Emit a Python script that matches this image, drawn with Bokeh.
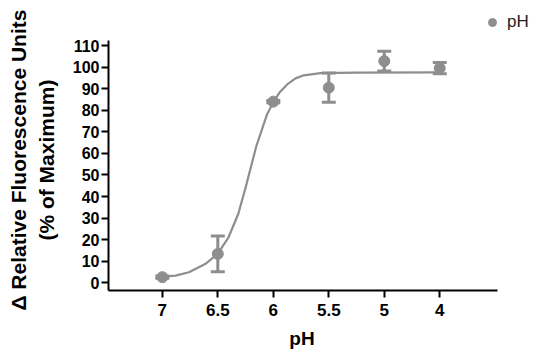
from bokeh.plotting import figure
from bokeh.models import (ColumnDataSource, Whisker, TeeHead, FixedTicker,
                          Legend, LegendItem, Range1d)
from bokeh.embed import file_html
from bokeh.resources import INLINE

# ---- data ----
ph_labels = ["7", "6.5", "6", "5.5", "5", "4"]
response = [2.6, 13.4, 84.0, 90.5, 102.8, 99.5]
sd = [0.5, 8.3, 0.5, 6.8, 4.6, 2.6]

# fitted curve (x in category positions)
curve_pos = [0.0, 0.24, 0.48, 0.78, 1.0, 1.19, 1.37, 1.52, 1.69, 1.89, 2.01,
             2.12, 2.25, 2.4, 2.55, 2.85, 3.5, 5.0]
curve_y = [2.9, 3.3, 4.9, 8.8, 13.5, 20.9, 32.0, 46.0, 63.0, 78.3, 84.1,
           88.5, 92.0, 94.8, 96.2, 97.2, 97.5, 97.6]

y_ticks = list(range(0, 111, 10))

pos = list(range(len(ph_labels)))
upper = [m + s for m, s in zip(response, sd)]
lower = [m - s for m, s in zip(response, sd)]

GRAY = "#8e8e8e"
FONT = "Liberation Sans"
NB = "\u00a0"

p = figure(width=553, height=360, output_backend="svg", toolbar_location=None,
           x_range=Range1d(-0.97, 7.05), y_range=Range1d(-3.57, 130.9),
           min_border_left=108, min_border_right=0,
           min_border_top=0, min_border_bottom=70)
p.outline_line_color = None
p.xgrid.visible = False
p.ygrid.visible = False

src = ColumnDataSource(dict(x=pos, y=response, upper=upper, lower=lower))

p.line(curve_pos, curve_y, line_color=GRAY, line_width=2.2)

whisk = Whisker(source=src, base="x", upper="upper", lower="lower",
                line_color=GRAY, line_width=3,
                upper_head=TeeHead(size=14, line_color=GRAY, line_width=3),
                lower_head=TeeHead(size=14, line_color=GRAY, line_width=3))
p.add_layout(whisk)

r_pts = p.scatter("x", "y", source=src, size=11, fill_color=GRAY,
                  line_color=GRAY)

# axes
for ax in (p.xaxis, p.yaxis):
    ax.axis_line_width = 2
    ax.axis_line_color = "black"
    ax.major_tick_line_width = 2
    ax.major_tick_line_color = "black"
    ax.major_tick_in = 0
    ax.major_tick_out = 7
    ax.minor_tick_line_color = None
    ax.major_label_text_font = FONT
    ax.major_label_text_font_style = "bold"
    ax.major_label_text_color = "black"
    ax.axis_label_text_font = FONT
    ax.axis_label_text_font_style = "bold"
    ax.axis_label_text_color = "black"

p.xaxis.bounds = (-0.97, 6.04)
p.xaxis.ticker = FixedTicker(ticks=pos)
p.xaxis.major_label_overrides = {i: lbl for i, lbl in zip(pos, ph_labels)}
p.xaxis.major_label_text_font_size = "17px"
p.xaxis.major_label_standoff = 6
p.xaxis.axis_label = "pH" + NB * 11
p.xaxis.axis_label_text_font_size = "19px"
p.xaxis.axis_label_standoff = 9

p.yaxis.bounds = (-3.57, 112.3)
p.yaxis.ticker = FixedTicker(ticks=y_ticks)
p.yaxis.major_label_text_font_size = "16px"
p.yaxis.major_label_standoff = 2
p.yaxis.axis_label = ("\u0394 Relative Fluorescence Units" + NB * 5 + "\n"
                      + "(% of Maximum)" + NB * 5)
p.yaxis.axis_label_text_font_size = "21px"
p.yaxis.axis_label_standoff = 12

legend = Legend(items=[LegendItem(label="pH", renderers=[r_pts])],
                location=(364, 248), border_line_alpha=0,
                background_fill_alpha=0, label_text_font=FONT,
                label_text_font_size="17px", label_text_color="#222222",
                glyph_width=20, glyph_height=20, padding=10, spacing=0,
                margin=0, label_standoff=5)
p.add_layout(legend)

open("out.html", "w").write(file_html(p, INLINE))
